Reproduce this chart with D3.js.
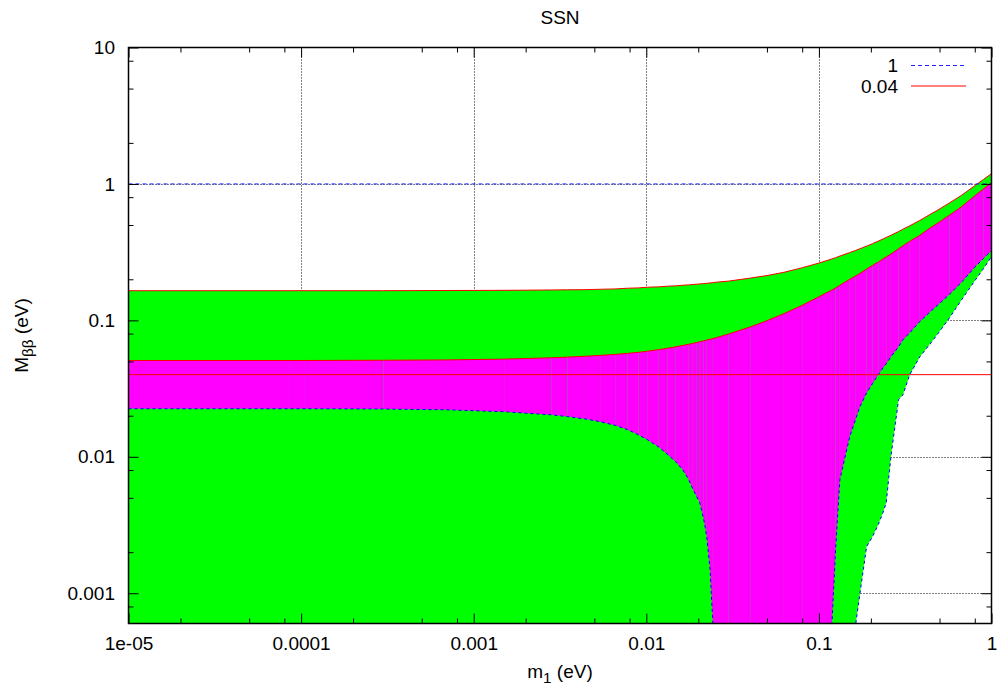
<!DOCTYPE html>
<html>
<head>
<meta charset="utf-8">
<script src="https://cdn.jsdelivr.net/npm/d3@7/dist/d3.min.js"></script>
<style>
  html, body { margin: 0; padding: 0; background: #fff; }
  svg { display: block; font-family: "Liberation Sans", Arial, Helvetica, sans-serif; }
</style>
</head>
<body>
<svg id="chart" width="997" height="690"></svg>
<script>
// Lightest neutrino mass m1 (eV) at which the bands are tabulated
const m1 = [1e-5, 8.4e-5, 1.04e-4, 3e-4, 7e-4, 0.0015, 0.00283, 0.0035, 0.00447, 0.0054,
  0.0066, 0.0078, 0.0090, 0.0102, 0.0118, 0.0133, 0.0148, 0.0163, 0.0175, 0.0186,
  0.0196, 0.0204, 0.0215, 0.0224, 0.0234, 0.0243, 0.025, 0.030, 0.040, 0.050,
  0.0627, 0.080, 0.100, 0.119, 0.125, 0.1323, 0.151, 0.1636, 0.173, 0.189,
  0.2046, 0.221, 0.2353, 0.2455, 0.2613, 0.2894, 0.307, 0.336, 0.384, 0.440,
  0.490, 0.570, 0.670, 0.800, 0.900, 1.000];

// Wide band (green): upper and lower bound of M_bb (eV); 0 = bound reaches zero
const greenUpper = [0.165, 0.165, 0.165, 0.165, 0.1655, 0.166, 0.167, 0.1675, 0.168, 0.169,
  0.170, 0.172, 0.173, 0.175, 0.176, 0.178, 0.179, 0.181, 0.182, 0.183,
  0.184, 0.185, 0.186, 0.187, 0.188, 0.189, 0.190, 0.194, 0.204, 0.213,
  0.225, 0.243, 0.263, 0.282, 0.288, 0.296, 0.314, 0.326, 0.335, 0.350,
  0.365, 0.381, 0.395, 0.405, 0.420, 0.448, 0.466, 0.493, 0.540, 0.597,
  0.645, 0.725, 0.825, 0.970, 1.080, 1.190];
const greenLower = [0, 0, 0, 0, 0, 0, 0, 0, 0, 0,
  0, 0, 0, 0, 0, 0, 0, 0, 0, 0,
  0, 0, 0, 0, 0, 0, 0, 0, 0, 0,
  0, 0, 0, 0, 0, 0, 0, 0.0006, 0.0010, 0.0022,
  0.0026, 0.0032, 0.0039, 0.0046, 0.0100, 0.0262, 0.0285, 0.040, 0.054, 0.067,
  0.080, 0.104, 0.141, 0.195, 0.240, 0.293];

// Narrow band (magenta): upper and lower bound of M_bb (eV)
const magentaUpper = [0.0508, 0.0508, 0.0508, 0.0510, 0.0513, 0.0520, 0.0532, 0.0538, 0.0546, 0.0554,
  0.0563, 0.0573, 0.0583, 0.0595, 0.0610, 0.0625, 0.0640, 0.0655, 0.0667, 0.0678,
  0.0688, 0.0697, 0.0708, 0.0717, 0.0727, 0.0736, 0.0742, 0.0795, 0.0895, 0.0995,
  0.112, 0.129, 0.149, 0.167, 0.173, 0.181, 0.200, 0.212, 0.221, 0.238,
  0.253, 0.268, 0.282, 0.292, 0.306, 0.335, 0.352, 0.380, 0.420, 0.475,
  0.518, 0.590, 0.680, 0.820, 0.920, 1.020];
const magentaLower = [0.0225, 0.0225, 0.0225, 0.0224, 0.0221, 0.0214, 0.0203, 0.0197, 0.0189, 0.0181,
  0.0170, 0.0158, 0.0145, 0.0133, 0.0118, 0.0104, 0.0092, 0.0080, 0.0069, 0.0058,
  0.0051, 0.0046, 0.0035, 0.0026, 0.0015, 0.0006, 0, 0, 0, 0,
  0, 0, 0, 0.0006, 0.0021, 0.0068, 0.0141, 0.0190, 0.0233, 0.0294,
  0.0345, 0.040, 0.045, 0.048, 0.054, 0.064, 0.072, 0.081, 0.098, 0.115,
  0.130, 0.155, 0.190, 0.245, 0.285, 0.325];

// Reference levels (horizontal lines) and their legend keys
const refLevels = [1, 0.04];
const refLabels = ["1", "0.04"];

// Axis ticks
const xTickValues = [1e-5, 1e-4, 1e-3, 1e-2, 1e-1, 1];
const xTickLabels = ["1e-05", "0.0001", "0.001", "0.01", "0.1", "1"];
const yTickValues = [0.001, 0.01, 0.1, 1, 10];
const yTickLabels = ["0.001", "0.01", "0.1", "1", "10"];
const minorMantissas = [2, 5, 8];

const FONT = 19;
const plot = { left: 128.5, right: 991.5, top: 47.5, bottom: 623.5 };
const yMin = 6e-4, yMax = 10;
const FLOOR = 1e-4; // stand-in for a zero bound on the log axis (outside the frame)

const svg = d3.select("#chart");
svg.append("rect").attr("width", 997).attr("height", 690).attr("fill", "#fff");

const x = d3.scaleLog().domain([1e-5, 1]).range([plot.left, plot.right]);
const y = d3.scaleLog().domain([yMin, yMax]).range([plot.bottom, plot.top]);
const yv = v => y(Math.max(v, FLOOR));

svg.append("clipPath").attr("id", "plotClip")
  .append("rect")
  .attr("x", plot.left).attr("y", plot.top)
  .attr("width", plot.right - plot.left).attr("height", plot.bottom - plot.top);

// Grid at major ticks
const grid = svg.append("g").attr("stroke", "#000").attr("stroke-width", 1)
  .attr("stroke-dasharray", "1,2");
grid.selectAll("line.gx").data(xTickValues.slice(1, -1)).join("line")
  .attr("x1", d => Math.round(x(d)) + 0.5).attr("x2", d => Math.round(x(d)) + 0.5)
  .attr("y1", plot.top).attr("y2", plot.bottom);
grid.selectAll("line.gy").data(yTickValues.slice(0, -1)).join("line")
  .attr("y1", d => Math.round(y(d)) + 0.5).attr("y2", d => Math.round(y(d)) + 0.5)
  .attr("x1", plot.left).attr("x2", plot.right);

const data = m1.map((m, i) => ({
  m, gUp: greenUpper[i], gLo: greenLower[i], mUp: magentaUpper[i], mLo: magentaLower[i]
}));

const bands = svg.append("g").attr("clip-path", "url(#plotClip)");

// Wide band as one filled region, narrow band as strips between tabulated points
const greenArea = d3.area().x(d => x(d.m)).y0(d => yv(d.gLo)).y1(d => yv(d.gUp));
const magentaArea = d3.area().x(d => x(d.m)).y0(d => yv(d.mLo)).y1(d => yv(d.mUp));

bands.append("path").datum(data).attr("d", greenArea).attr("fill", "#00ff00");
bands.append("g").selectAll("path").data(d3.pairs(data)).join("path")
  .attr("d", d => magentaArea(d)).attr("fill", "#ff00ff");

// Band edges: upper bounds in red, lower bounds in dashed blue
const edge = key => d3.line().x(d => x(d.m)).y(d => yv(d[key]));
[["gUp", "#ff0000", null], ["mUp", "#ff0000", null],
 ["gLo", "#0000ff", "3,3"], ["mLo", "#0000ff", "3,3"]].forEach(([key, color, dash]) => {
  bands.append("path").datum(data)
    .attr("d", edge(key))
    .attr("fill", "none").attr("stroke", color).attr("stroke-width", 1)
    .attr("stroke-dasharray", dash);
});

// Reference levels
const refStyles = [{ color: "#2020ff", dash: "4,3" }, { color: "#ff0000", dash: null }];
bands.selectAll("line.ref").data(refLevels).join("line")
  .attr("x1", plot.left).attr("x2", plot.right)
  .attr("y1", d => y(d)).attr("y2", d => y(d))
  .attr("stroke", (d, i) => refStyles[i].color)
  .attr("stroke-dasharray", (d, i) => refStyles[i].dash)
  .attr("stroke-width", 1);

// Axes: inward ticks on all four sides, labels on bottom and left
function minorValues(lo, hi) {
  const out = [];
  for (let e = -6; e <= 1; e++) {
    minorMantissas.forEach(k => {
      const v = k * Math.pow(10, e);
      if (v > lo && v < hi) out.push(v);
    });
  }
  return out;
}
const minorX = minorValues(1e-5, 1);
const minorY = minorValues(yMin, yMax);

function styleAxis(g) {
  g.select(".domain").remove();
  g.selectAll("line").attr("stroke", "#000").attr("stroke-width", 1);
  g.selectAll("text").attr("fill", "#000")
    .style("font-family", "\"Liberation Sans\", Arial, Helvetica, sans-serif")
    .style("font-size", FONT + "px");
}

svg.append("g").attr("transform", `translate(0,${plot.bottom})`)
  .call(d3.axisBottom(x).tickValues(xTickValues).tickFormat((d, i) => xTickLabels[i])
    .tickSizeInner(-10).tickSizeOuter(0).tickPadding(13.5)).call(styleAxis);
svg.append("g").attr("transform", `translate(0,${plot.bottom})`)
  .call(d3.axisBottom(x).tickValues(minorX).tickFormat("").tickSizeInner(-5).tickSizeOuter(0))
  .call(styleAxis);
svg.append("g").attr("transform", `translate(0,${plot.top})`)
  .call(d3.axisTop(x).tickValues(xTickValues).tickFormat("").tickSizeInner(-10).tickSizeOuter(0))
  .call(styleAxis);
svg.append("g").attr("transform", `translate(0,${plot.top})`)
  .call(d3.axisTop(x).tickValues(minorX).tickFormat("").tickSizeInner(-5).tickSizeOuter(0))
  .call(styleAxis);

svg.append("g").attr("transform", `translate(${plot.left},0)`)
  .call(d3.axisLeft(y).tickValues(yTickValues).tickFormat((d, i) => yTickLabels[i])
    .tickSizeInner(-10).tickSizeOuter(0).tickPadding(13.5)).call(styleAxis);
svg.append("g").attr("transform", `translate(${plot.left},0)`)
  .call(d3.axisLeft(y).tickValues(minorY).tickFormat("").tickSizeInner(-5).tickSizeOuter(0))
  .call(styleAxis);
svg.append("g").attr("transform", `translate(${plot.right},0)`)
  .call(d3.axisRight(y).tickValues(yTickValues).tickFormat("").tickSizeInner(-10).tickSizeOuter(0))
  .call(styleAxis);
svg.append("g").attr("transform", `translate(${plot.right},0)`)
  .call(d3.axisRight(y).tickValues(minorY).tickFormat("").tickSizeInner(-5).tickSizeOuter(0))
  .call(styleAxis);

// Frame
svg.append("rect")
  .attr("x", plot.left).attr("y", plot.top)
  .attr("width", plot.right - plot.left).attr("height", plot.bottom - plot.top)
  .attr("fill", "none").attr("stroke", "#000").attr("stroke-width", 1.5);

// Legend
const legend = svg.append("g").style("font-size", FONT + "px");
refLevels.forEach((lvl, i) => {
  const ly = 65.5 + i * 20.5;
  legend.append("text").attr("x", 898).attr("y", ly).attr("dy", "0.35em")
    .attr("text-anchor", "end").attr("fill", "#000").text(refLabels[i]);
  legend.append("line").attr("x1", 911).attr("x2", 966)
    .attr("y1", ly).attr("y2", ly)
    .attr("stroke", refStyles[i].color).attr("stroke-width", 1)
    .attr("stroke-dasharray", refStyles[i].dash);
});

// Title and axis titles
const cx = (plot.left + plot.right) / 2;
svg.append("text").attr("x", cx).attr("y", 23.5).attr("text-anchor", "middle")
  .style("font-size", FONT + "px").text("SSN");

const xl = svg.append("text").attr("x", cx).attr("y", 678).attr("text-anchor", "middle")
  .style("font-size", FONT + "px");
xl.append("tspan").text("m");
xl.append("tspan").attr("dy", 5).style("font-size", (FONT * 0.8) + "px").text("1");
xl.append("tspan").attr("dy", -5).text(" (eV)");

const yl = svg.append("text")
  .attr("transform", `translate(28,${(plot.top + plot.bottom) / 2}) rotate(-90)`)
  .attr("text-anchor", "middle").style("font-size", FONT + "px");
yl.append("tspan").text("M");
yl.append("tspan").attr("dy", 5).style("font-size", (FONT * 0.8) + "px").text("ββ");
yl.append("tspan").attr("dy", -5).text(" (eV)");
</script>
</body>
</html>
